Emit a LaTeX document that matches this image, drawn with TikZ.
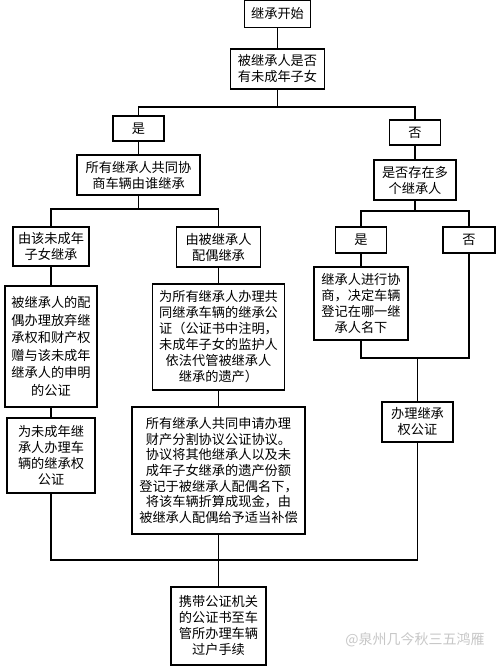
\documentclass[tikz,border=0pt]{standalone}
\usepackage{fontspec}
\newfontfamily\cjk{Noto Sans CJK SC}
\begin{document}
\begin{tikzpicture}[x=1pt,y=-1pt,
  box/.style={draw, line width=1.1pt, inner sep=0pt, align=center,
    font=\cjk\fontsize{13.2}{16}\selectfont},
  conn/.style={line width=1.1pt}]
\fill[white] (0,0) rectangle (500,666);
\useasboundingbox (0,0) rectangle (500,666);
% nodes
\node[box, minimum width=66pt, minimum height=27pt] (n1) at (277.5,14) {继承开始};
\node[box, minimum width=94pt, minimum height=40pt] (n2) at (277.5,69) {被继承人是否\\有未成年子女};
\node[box, minimum width=51pt, minimum height=25pt] (yes1) at (138.5,128.5) {是};
\node[box, minimum width=51pt, minimum height=25pt] (no1) at (415,132.5) {否};
\node[box, minimum width=123pt, minimum height=40pt] (n5) at (138.5,175) {所有继承人共同协\\商车辆由谁继承};
\node[box, minimum width=82pt, minimum height=40pt] (n6) at (415,180) {是否存在多\\个继承人};
\node[box, minimum width=76pt, minimum height=39pt] (n7) at (51,246.5) {由该未成年\\子女继承};
\node[box, minimum width=84pt, minimum height=40pt] (n8) at (218.5,247) {由被继承人\\配偶继承};
\node[box, minimum width=51pt, minimum height=26pt] (yes2) at (361,240) {是};
\node[box, minimum width=52pt, minimum height=26pt] (no2) at (469,240) {否};
\node[box, minimum width=92pt, minimum height=121pt,
  font=\cjk\fontsize{13.2}{17.5}\selectfont] (n11) at (51,346.5)
  {被继承人的配\\偶办理放弃继\\承权和财产权\\赠与该未成年\\继承人的申明\\的公证};
\node[box, minimum width=132pt, minimum height=106pt] (n12) at (218.5,337)
  {为所有继承人办理共\\同继承车辆的继承公\\证（公证书中注明，\\未成年子女的监护人\\依法代管被继承人\\继承的遗产）};
\node[box, minimum width=94pt, minimum height=73pt] (n13) at (361,303.5)
  {继承人进行协\\商，决定车辆\\登记在哪一继\\承人名下};
\node[box, minimum width=88pt, minimum height=75pt] (n14) at (51,455.5)
  {为未成年继\\承人办理车\\辆的继承权\\公证};
\node[box, minimum width=173pt, minimum height=127pt,
  font=\cjk\fontsize{13.2}{15.6}\selectfont] (n15) at (218.5,470.5)
  {所有继承人共同申请办理\\财产分割协议公证协议。\\协议将其他继承人以及未\\成年子女继承的遗产份额\\登记于被继承人配偶名下，\\将该车辆折算成现金，由\\被继承人配偶给予适当补偿};
\node[box, minimum width=71pt, minimum height=40pt] (n16) at (417.5,422) {办理继承\\权公证};
\node[box, minimum width=95pt, minimum height=78pt] (n17) at (218.5,626)
  {携带公证机关\\的公证书至车\\管所办理车辆\\过户手续};
\node[text=black!22, font=\cjk\fontsize{14}{16}\selectfont] (wm) at (415,640) {@泉州几今秋三五鸿雁};
% junctions
\coordinate (a1) at (277.5,107);
\coordinate (a2) at (138.5,209);
\coordinate (a3) at (415,211);
\coordinate (a4) at (417.5,358);
\coordinate (a5) at (218.5,560);
% connectors
\draw[conn] (n1) -- (n2);
\draw[conn] (n2) -- (a1);
\draw[conn] (yes1) |- (a1) -| (no1);
\draw[conn] (yes1) -- (n5);
\draw[conn] (no1) -- (n6);
\draw[conn] (n5) -- (a2);
\draw[conn] (n7) |- (a2) -| (n8);
\draw[conn] (n6) -- (a3);
\draw[conn] (yes2) |- (a3) -| (no2);
\draw[conn] (yes2) -- (n13);
\draw[conn] (n7) -- (n11);
\draw[conn] (n11) -- (n14);
\draw[conn] (n8) -- (n12);
\draw[conn] (n12) -- (n15);
\draw[conn] (n13) |- (a4) -| (no2);
\draw[conn] (a4) -- (n16);
\draw[conn] (n14) |- (a5);
\draw[conn] (n15) -- (a5);
\draw[conn] (n16) |- (a5);
\draw[conn] (a5) -- (n17);
\end{tikzpicture}
\end{document}
